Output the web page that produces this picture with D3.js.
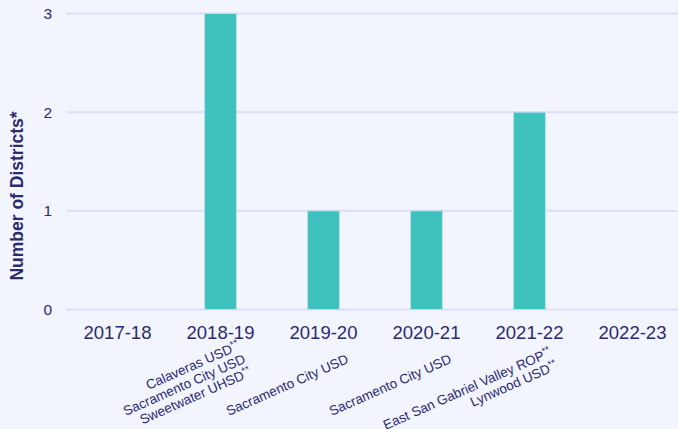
<!DOCTYPE html>
<html>
<head>
<meta charset="utf-8">
<script src="https://cdn.jsdelivr.net/npm/d3@7"></script>
<style>
  html, body { margin: 0; padding: 0; background: #f2f4fe; }
  svg { display: block; font-family: "Liberation Sans", Arial, sans-serif; }
</style>
</head>
<body>
<div id="chart"></div>
<script>
/* Data */
var years = ["2017-18", "2018-19", "2019-20", "2020-21", "2021-22", "2022-23"];
var districtCounts = [0, 3, 1, 1, 2, 0];
var districtNames = [
    [],
    ["Calaveras USD**", "Sacramento City USD", "Sweetwater UHSD**"],
    ["Sacramento City USD"],
    ["Sacramento City USD"],
    ["East San Gabriel Valley ROP**", "Lynwood USD**"],
    []
];
var yTicks = [0, 1, 2, 3];

var width = 678, height = 429;
var ink = "#2b2a6e";

var svg = d3.select("#chart")
    .append("svg")
    .attr("width", width)
    .attr("height", height);

svg.append("rect")
    .attr("width", width)
    .attr("height", height)
    .attr("fill", "#f2f4fe");

var x = d3.scaleBand()
    .domain(years)
    .range([66, 684])
    .padding(0);

var y = d3.scaleLinear()
    .domain([0, 3])
    .range([309.5, 13.5]);

/* Gridlines */
svg.append("g")
    .selectAll("line")
    .data(yTicks)
    .join("line")
    .attr("x1", 66)
    .attr("x2", width)
    .attr("y1", function (d) { return y(d); })
    .attr("y2", function (d) { return y(d); })
    .attr("stroke", "#dde0f7")
    .attr("stroke-width", 2);

/* Y tick labels */
svg.append("g")
    .selectAll("text")
    .data(yTicks)
    .join("text")
    .attr("x", 52)
    .attr("y", function (d) { return y(d); })
    .attr("dy", "0.35em")
    .attr("text-anchor", "end")
    .attr("font-size", 15.5)
    .attr("fill", ink)
    .text(function (d) { return d; });

/* Y axis title */
svg.append("text")
    .attr("transform", "translate(23,196) rotate(-90)")
    .attr("text-anchor", "middle")
    .attr("font-size", 17.5)
    .attr("font-weight", "bold")
    .attr("fill", ink)
    .text("Number of Districts*");

/* Bars */
var barW = x.bandwidth() * 0.31;
svg.append("g")
    .selectAll("rect")
    .data(years.map(function (yr, i) { return { year: yr, value: districtCounts[i] }; })
        .filter(function (d) { return d.value > 0; }))
    .join("rect")
    .attr("x", function (d) { return x(d.year) + x.bandwidth() / 2 - barW / 2; })
    .attr("y", function (d) { return y(d.value); })
    .attr("width", barW)
    .attr("height", function (d) { return y(0) - y(d.value); })
    .attr("fill", "#3fc2bd")
    .attr("stroke", "#b5e3ee")
    .attr("stroke-width", 1);

/* Year labels */
svg.append("g")
    .selectAll("text")
    .data(years)
    .join("text")
    .attr("x", function (d) { return x(d) + x.bandwidth() / 2; })
    .attr("y", 339)
    .attr("text-anchor", "middle")
    .attr("font-size", 18.5)
    .attr("fill", ink)
    .text(function (d) { return d; });

/* Rotated district names under each year */
var lineH = 14.5;
var groups = svg.append("g")
    .selectAll("g")
    .data(years.map(function (yr, i) { return { year: yr, names: districtNames[i] }; }))
    .join("g")
    .attr("transform", function (d) {
        return "translate(" + (x(d.year) + x.bandwidth() / 2 + 24) + ",358) rotate(-24)";
    });

groups.selectAll("text")
    .data(function (d) {
        return d.names.map(function (n, i) { return { name: n, i: i, n: d.names.length }; });
    })
    .join("text")
    .attr("x", 0)
    .attr("y", function (d) { return (d.i - (d.n - 1) / 2) * lineH; })
    .attr("dy", "0.35em")
    .attr("text-anchor", "end")
    .attr("font-size", 13.5)
    .attr("fill", ink)
    .each(function (d) {
        var t = d3.select(this);
        var m = d.name.match(/^(.*?)(\*+)$/);
        if (m) {
            t.append("tspan").text(m[1]);
            t.append("tspan")
                .attr("font-size", 10)
                .attr("dy", "-0.45em")
                .text(m[2]);
        } else {
            t.text(d.name);
        }
    });
</script>
</body>
</html>
